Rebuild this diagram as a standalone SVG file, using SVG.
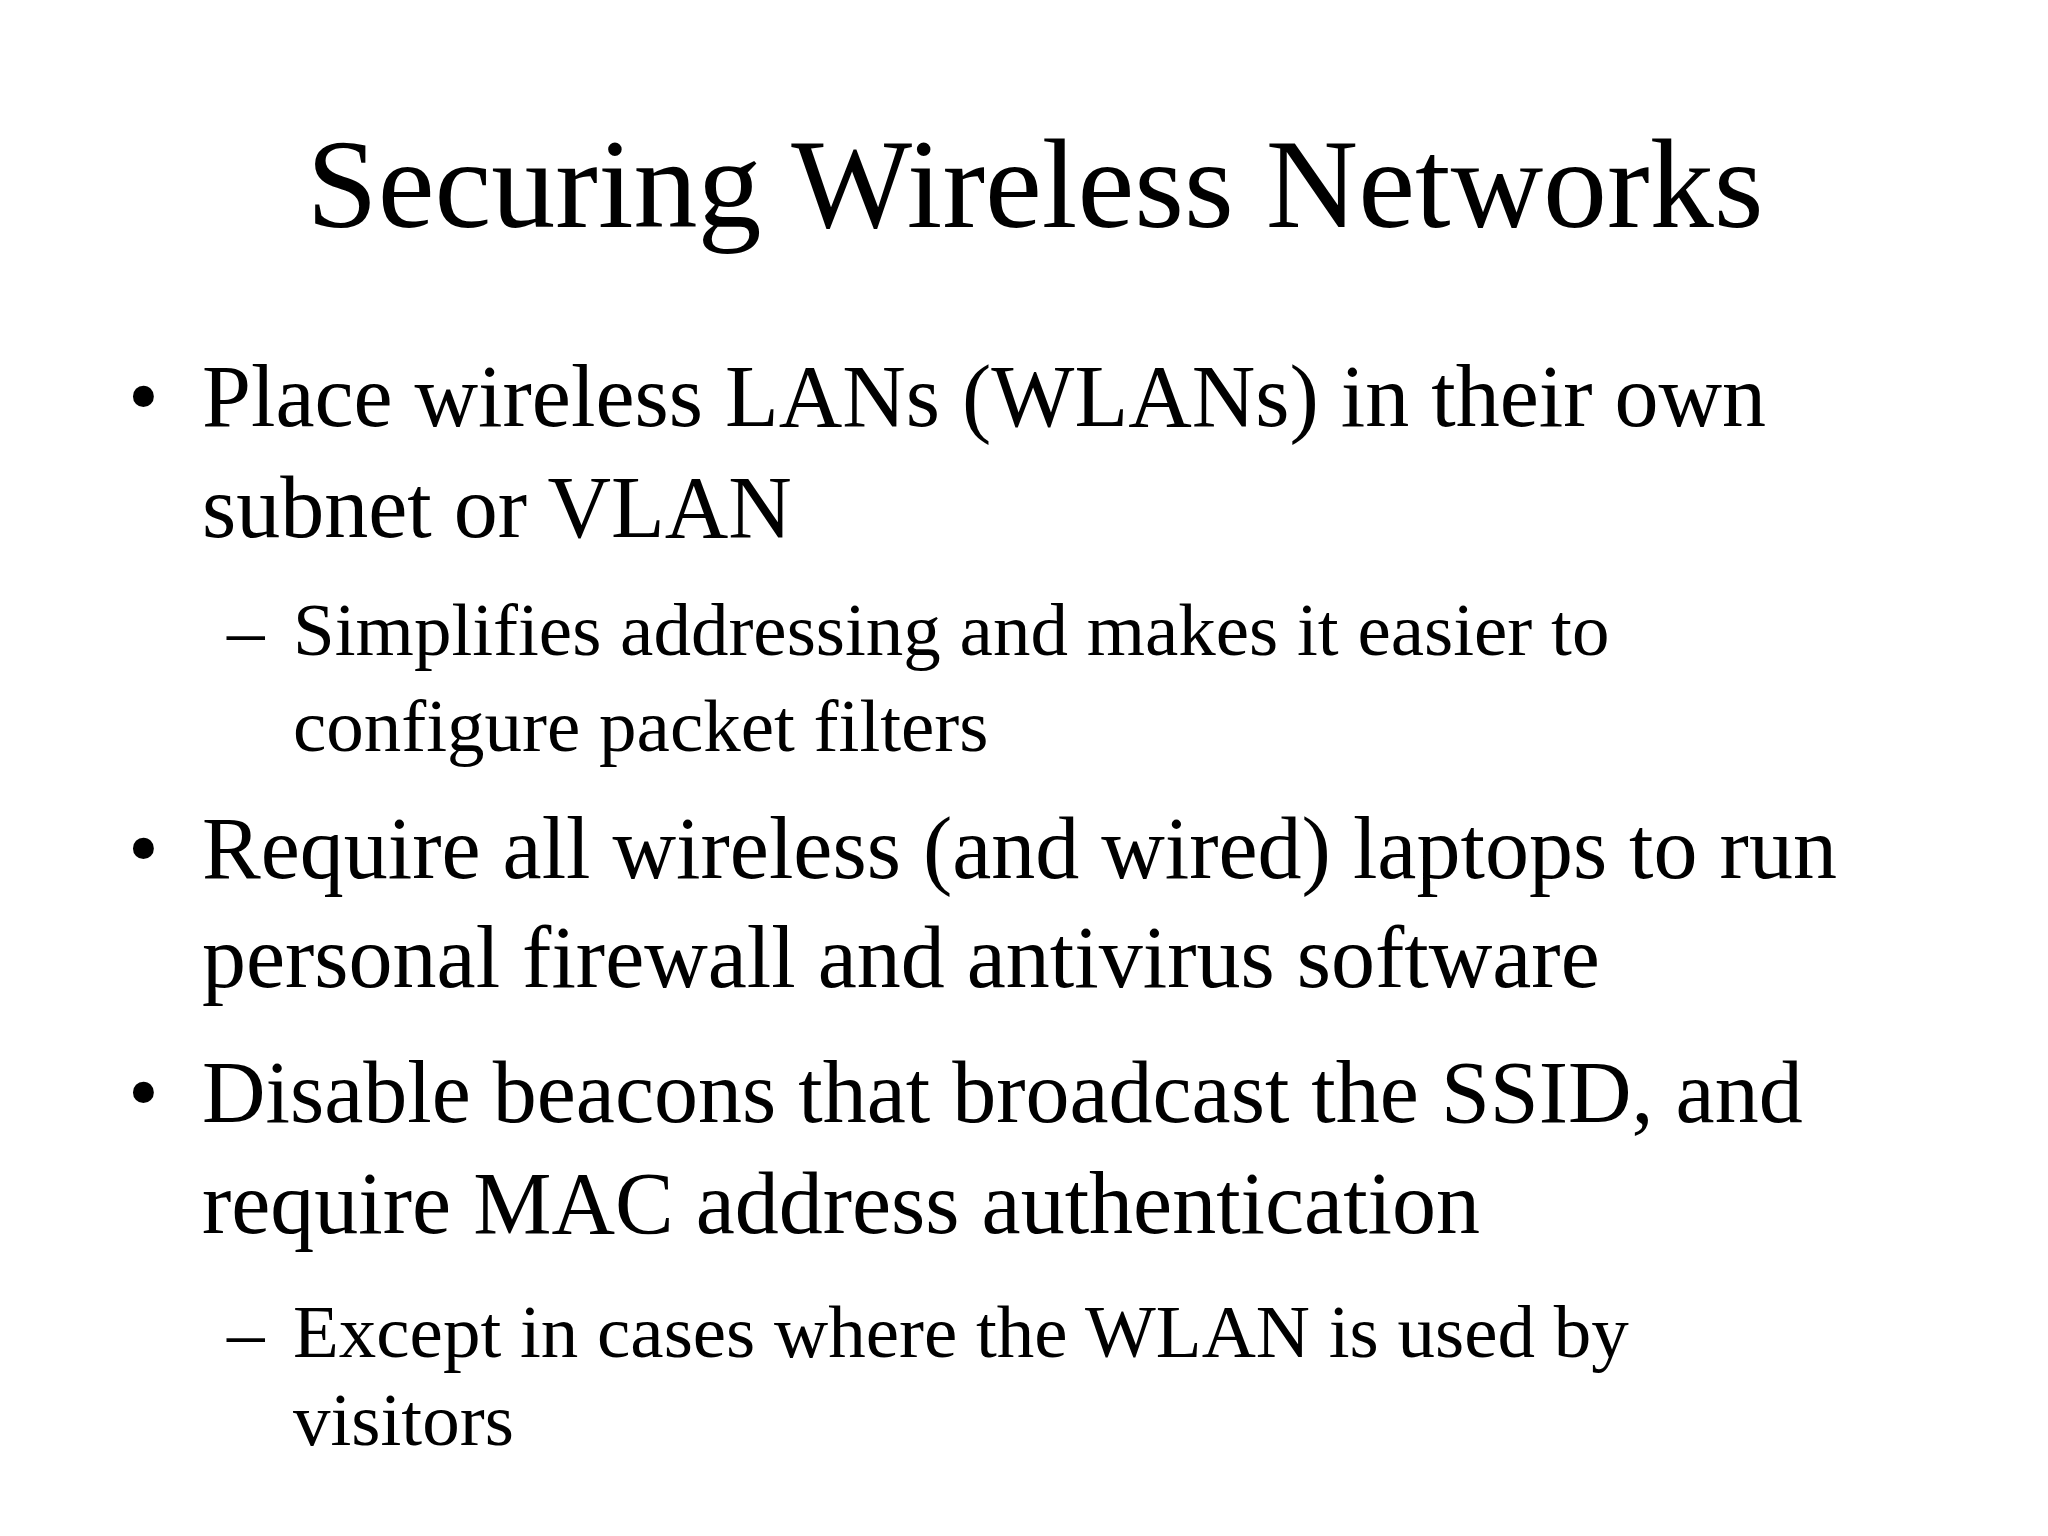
<svg xmlns="http://www.w3.org/2000/svg" width="2048" height="1536" viewBox="0 0 2048 1536">
<style>
text{font-family:"Liberation Serif","Times New Roman",serif;fill:#000}
.t{font-size:128px}
.b{font-size:88px}
.s{font-size:75px}
</style>
<rect width="2048" height="1536" fill="#fff"/>
<g id="title"><text class="t" x="1035" y="227" text-anchor="middle">Securing Wireless Networks</text></g>
<g id="bullet1">
<text class="b" x="128" y="426">•</text>
<text class="b" x="202" y="426">Place wireless LANs (WLANs) in their own</text>
<text class="b" x="202" y="537">subnet or VLAN</text>
</g>
<g id="sub1">
<text class="s" x="227" y="655">–</text>
<text class="s" x="293" y="655">Simplifies addressing and makes it easier to</text>
<text class="s" x="293" y="751">configure packet filters</text>
</g>
<g id="bullet2">
<text class="b" x="128" y="878">•</text>
<text class="b" x="202" y="878">Require all wireless (and wired) laptops to run</text>
<text class="b" x="202" y="987">personal firewall and antivirus software</text>
</g>
<g id="bullet3">
<text class="b" x="128" y="1122">•</text>
<text class="b" x="202" y="1122">Disable beacons that broadcast the SSID, and</text>
<text class="b" x="202" y="1233">require MAC address authentication</text>
</g>
<g id="sub3">
<text class="s" x="227" y="1357">–</text>
<text class="s" x="293" y="1357">Except in cases where the WLAN is used by</text>
<text class="s" x="293" y="1445">visitors</text>
</g>
</svg>
